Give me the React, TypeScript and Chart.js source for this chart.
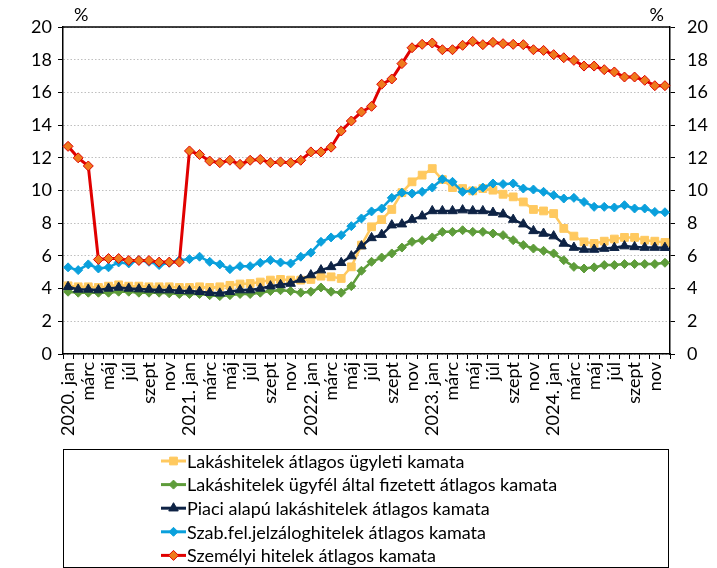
import React, { useEffect, useRef } from 'react';
import { Chart, registerables } from 'chart.js';

Chart.register(...registerables);

const years = ['2020', '2021', '2022', '2023', '2024'];
const months = ['jan', 'febr', 'márc', 'ápr', 'máj', 'jún', 'júl', 'aug', 'szept', 'okt', 'nov', 'dec'];
const categories = years.flatMap((y) => months.map((m, i) => (i === 0 ? `${y}. ${m}` : m)));

const yTicks = [0, 2, 4, 6, 8, 10, 12, 14, 16, 18, 20];

const lakasUgyleti = [
  4.17, 4.11, 4.11, 4.07, 4.15, 4.23, 4.15, 4.15, 4.11, 4.11, 4.11, 4.07,
  4.07, 4.11, 4.07, 4.11, 4.2, 4.28, 4.31, 4.4, 4.52, 4.56, 4.52, 4.52,
  4.56, 4.76, 4.72, 4.62, 5.33, 6.66, 7.78, 8.22, 8.84, 9.87, 10.53, 10.94,
  11.34, 10.67, 10.18, 10.12, 9.98, 10.12, 10.02, 9.77, 9.61, 9.3, 8.84, 8.75,
  8.59, 7.68, 7.21, 6.86, 6.76, 6.9, 7.03, 7.13, 7.13, 6.96, 6.9, 6.82,
];

const lakasUgyfel = [
  3.81, 3.75, 3.75, 3.75, 3.75, 3.81, 3.81, 3.75, 3.75, 3.75, 3.71, 3.67,
  3.67, 3.67, 3.6, 3.54, 3.6, 3.67, 3.67, 3.75, 3.85, 3.9, 3.85, 3.75,
  3.81, 4.07, 3.81, 3.75, 4.15, 5.09, 5.64, 5.9, 6.15, 6.51, 6.86, 6.96,
  7.13, 7.47, 7.47, 7.57, 7.47, 7.47, 7.37, 7.27, 6.96, 6.66, 6.45, 6.31,
  6.15, 5.74, 5.33, 5.23, 5.3, 5.44, 5.44, 5.5, 5.5, 5.5, 5.5, 5.58,
];

const piaciAlapu = [
  4.11, 3.95, 3.95, 3.91, 4.01, 4.07, 4.01, 3.97, 3.95, 3.91, 3.91, 3.87,
  3.85, 3.81, 3.75, 3.71, 3.81, 3.91, 3.91, 4.01, 4.15, 4.23, 4.31, 4.56,
  4.83, 5.13, 5.33, 5.58, 5.99, 6.6, 7.1, 7.3, 7.88, 7.94, 8.22, 8.43,
  8.75, 8.75, 8.75, 8.8, 8.75, 8.75, 8.65, 8.55, 8.22, 7.94, 7.53, 7.37,
  7.21, 6.76, 6.51, 6.39, 6.39, 6.45, 6.5, 6.6, 6.55, 6.51, 6.51, 6.5,
];

const szabFel = [
  5.3, 5.13, 5.48, 5.23, 5.3, 5.6, 5.54, 5.74, 5.64, 5.44, 5.58, 5.74,
  5.8, 5.95, 5.64, 5.48, 5.19, 5.37, 5.37, 5.58, 5.74, 5.6, 5.54, 5.95,
  6.2, 6.86, 7.13, 7.27, 7.82, 8.29, 8.72, 8.9, 9.55, 9.87, 9.81, 9.92,
  10.18, 10.69, 10.53, 9.92, 9.98, 10.18, 10.43, 10.39, 10.43, 10.12, 10.06, 9.92,
  9.71, 9.51, 9.55, 9.3, 9.0, 9.0, 8.96, 9.1, 8.9, 8.9, 8.69, 8.67,
];

const szemelyi = [
  12.7, 12.0, 11.5, 5.78, 5.84, 5.84, 5.72, 5.72, 5.72, 5.62, 5.62, 5.62,
  12.42, 12.2, 11.8, 11.7, 11.85, 11.6, 11.85, 11.9, 11.7, 11.75, 11.7, 11.85,
  12.36, 12.36, 12.65, 13.64, 14.25, 14.8, 15.15, 16.5, 16.82, 17.76, 18.73, 18.94,
  19.02, 18.61, 18.61, 18.88, 19.12, 18.92, 19.06, 18.98, 18.94, 18.92, 18.61, 18.57,
  18.31, 18.12, 17.96, 17.61, 17.61, 17.39, 17.25, 16.94, 16.94, 16.74, 16.41, 16.41,
];

const seriesLabels = [
  'Lakáshitelek átlagos ügyleti kamata',
  'Lakáshitelek ügyfél által fizetett átlagos kamata',
  'Piaci alapú lakáshitelek átlagos kamata',
  'Szab.fel.jelzáloghitelek átlagos kamata',
  'Személyi hitelek átlagos kamata',
];

const FONT = 'Lato, Carlito, Calibri, sans-serif';

function drawMarker(ctx: CanvasRenderingContext2D, style: string, x: number, y: number, r: number, fill: string, stroke: string) {
  ctx.beginPath();
  if (style === 'rect') {
    const s = r * Math.SQRT1_2;
    ctx.rect(x - s, y - s, 2 * s, 2 * s);
  } else if (style === 'triangle') {
    ctx.moveTo(x, y - r);
    ctx.lineTo(x + r * 0.866, y + r * 0.5);
    ctx.lineTo(x - r * 0.866, y + r * 0.5);
    ctx.closePath();
  } else {
    ctx.moveTo(x, y - r);
    ctx.lineTo(x + r, y);
    ctx.lineTo(x, y + r);
    ctx.lineTo(x - r, y);
    ctx.closePath();
  }
  ctx.fillStyle = fill;
  ctx.fill();
  ctx.strokeStyle = stroke;
  ctx.lineWidth = 1;
  ctx.stroke();
}

const extrasPlugin = {
  id: 'extras',
  afterDraw(chart: any) {
    const { ctx, chartArea: a } = chart;
    ctx.save();
    ctx.setLineDash([]);
    ctx.strokeStyle = '#000';
    ctx.lineWidth = 1.5;
    ctx.beginPath();
    ctx.moveTo(a.left, a.top);
    ctx.lineTo(a.right, a.top);
    ctx.stroke();

    ctx.fillStyle = '#000';
    ctx.font = `18px ${FONT}`;
    ctx.textBaseline = 'middle';
    ctx.textAlign = 'left';
    ctx.fillText('%', 74, 15);
    ctx.textAlign = 'right';
    ctx.fillText('%', 664, 15);

    // legend box
    const boxL = 63, boxT = 449, boxR = 668, boxB = 567;
    ctx.strokeStyle = '#000';
    ctx.lineWidth = 1;
    ctx.strokeRect(boxL + 0.5, boxT + 0.5, boxR - boxL, boxB - boxT);

    const rowY0 = 461;
    const rowStep = 23.6;
    const lineX0 = 161, lineX1 = 186;
    ctx.font = `18px ${FONT}`;
    ctx.textAlign = 'left';
    ctx.textBaseline = 'middle';
    const order = [0, 1, 2, 3, 4];
    order.forEach((di, row) => {
      const ds = chart.data.datasets[di];
      const y = rowY0 + row * rowStep;
      ctx.strokeStyle = ds.borderColor;
      ctx.lineWidth = 3;
      ctx.beginPath();
      ctx.moveTo(lineX0, y);
      ctx.lineTo(lineX1, y);
      ctx.stroke();
      drawMarker(ctx, ds.pointStyle, (lineX0 + lineX1) / 2, y, ds.pointRadius, ds.pointBackgroundColor, ds.pointBorderColor);
      ctx.fillStyle = '#000';
      ctx.fillText(ds.label, lineX1 + 1, y + 1);
    });
    ctx.restore();
  },
};

export default function App() {
  const canvasRef = useRef<HTMLCanvasElement>(null);

  useEffect(() => {
    document.body.style.margin = '0';
    let chart: Chart | null = null;
    let cancelled = false;

    const build = () => {
      if (cancelled || !canvasRef.current) return;
      const mk = (label: string, data: number[], color: string, style: string, r: number, fill: string, stroke: string, order: number, bw = 2.5) => ({
        label,
        data,
        borderColor: color,
        backgroundColor: color,
        borderWidth: bw,
        pointStyle: style,
        pointRadius: r,
        pointHoverRadius: r,
        pointBackgroundColor: fill,
        pointBorderColor: stroke,
        pointBorderWidth: 1,
        tension: 0,
        order,
        yAxisID: 'y',
      });

      chart = new Chart(canvasRef.current, {
        type: 'line',
        data: {
          labels: categories,
          datasets: [
            mk(seriesLabels[0], lakasUgyleti, '#FFC95F', 'rect', 5.5, '#FFC95F', '#FFC95F', 5),
            mk(seriesLabels[1], lakasUgyfel, '#5E9C3A', 'rectRot', 4.5, '#5E9C3A', '#5E9C3A', 4),
            mk(seriesLabels[2], piaciAlapu, '#0E2345', 'triangle', 5.5, '#0E2345', '#0E2345', 3),
            mk(seriesLabels[3], szabFel, '#0AA0DC', 'rectRot', 4.5, '#0AA0DC', '#0AA0DC', 2),
            mk(seriesLabels[4], szemelyi, '#E00000', 'rectRot', 5, '#EE7A1C', '#E00000', 1, 3),
          ] as any,
        },
        options: {
          animation: false,
          responsive: false,
          maintainAspectRatio: false,
          devicePixelRatio: 1,
          layout: { padding: { top: 27, left: 0, right: 0, bottom: 119 } },
          plugins: {
            legend: { display: false },
            tooltip: { enabled: false },
          },
          scales: {
            x: {
              type: 'category',
              offset: true,
              grid: {
                offset: true,
                drawOnChartArea: false,
                drawTicks: true,
                tickLength: 5,
                tickColor: '#000',
                tickWidth: 1,
              },
              border: { display: true, color: '#000', width: 1.5 },
              ticks: {
                autoSkip: false,
                maxRotation: 90,
                minRotation: 90,
                padding: 3,
                color: '#000',
                font: { family: FONT, size: 18 },
                callback: (_v: any, i: number) => (i % 2 === 0 ? categories[i] : ''),
              },
              afterFit: (s: any) => { s.height = 95; },
            },
            y: {
              position: 'left',
              min: 0,
              max: 20,
              afterBuildTicks: (s: any) => { s.ticks = yTicks.map((v) => ({ value: v })); },
              grid: {
                color: '#BFBFBF',
                lineWidth: 1,
                drawTicks: true,
                tickLength: 5,
                tickColor: '#000',
                tickBorderDash: [],
              },
              border: { display: true, color: '#000', width: 1.5, dash: [1.5, 2] },
              ticks: {
                padding: 6,
                color: '#000',
                font: { family: FONT, size: 18 },
              },
              afterFit: (s: any) => { s.width = 63; },
            },
            y2: {
              position: 'right',
              min: 0,
              max: 20,
              afterBuildTicks: (s: any) => { s.ticks = yTicks.map((v) => ({ value: v })); },
              grid: {
                drawOnChartArea: false,
                drawTicks: true,
                tickLength: 5,
                tickColor: '#000',
              },
              border: { display: true, color: '#000', width: 1.5 },
              ticks: {
                padding: 12,
                color: '#000',
                font: { family: FONT, size: 18 },
              },
              afterFit: (s: any) => { s.width = 47; },
            },
          },
        } as any,
        plugins: [extrasPlugin],
      });
    };

    const fontsReady = (document as any).fonts
      ? Promise.all([
          (document as any).fonts.load(`18px Lato`),
        ]).catch(() => null)
      : Promise.resolve(null);
    fontsReady.then(build);

    return () => {
      cancelled = true;
      if (chart) chart.destroy();
    };
  }, []);

  return (
    <div style={{ width: 717, height: 568 }}>
      <canvas ref={canvasRef} width={717} height={568} style={{ display: 'block', width: 717, height: 568 }} />
    </div>
  );
}
